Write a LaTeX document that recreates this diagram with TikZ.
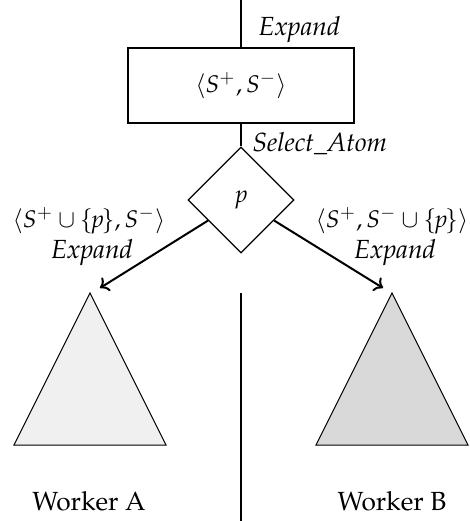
\documentclass[tikz,border=0pt]{standalone}
\usepackage[T1]{fontenc}
\usepackage{mathpazo}
\usetikzlibrary{shapes.geometric,arrows.meta}
\newcommand{\mathfs}{\fontsize{9.6pt}{11pt}\selectfont}
\newcommand{\textfs}{\fontsize{10.5pt}{12pt}\selectfont}
\begin{document}
\begin{tikzpicture}[x=0.4pt,y=-0.4pt,
  thinline/.style={line width=0.5pt},
  arr/.style={line width=0.8pt,-{To[length=3.2pt,width=6.4pt]}},
  lbl/.style={font=\textfs\itshape,inner sep=0pt},
  mlbl/.style={font=\mathfs,inner sep=0pt},
  tri/.style={draw,line width=0.4pt,line join=miter}]
\useasboundingbox (0,0) rectangle (469,521);
\coordinate (top) at (241,0);
\node[draw,thinline,font=\mathfs,minimum width=90.4pt,minimum height=30pt,inner sep=0pt] (box) at (241,85.5) {$\langle S^{+}, S^{-}\rangle$};
\node[draw,thinline,diamond,aspect=1,minimum size=42.4pt,inner sep=0pt,font=\mathfs] (dia) at (241,200) {$p$};
\draw[thinline] (top) -- (box.north);
\draw[thinline] (box.south) -- (dia.north);
\node[lbl,anchor=base west] (ex0) at (258,35) {Expand};
\node[lbl,anchor=base west] (sel) at (252,151) {Select\_Atom};
\coordinate (tipA) at (100,288);
\coordinate (tipB) at (383,288);
\draw[arr] (dia) -- (tipA);
\draw[arr] (dia) -- (tipB);
\node[mlbl,anchor=base] (lA) at (89,227) {$\langle S^{+}\cup\{\mkern-2mu p\mkern-2mu\}, S^{-}\rangle$};
\node[lbl,anchor=base] (eA) at (92,258) {Expand};
\node[mlbl,anchor=base] (lB) at (392,227) {$\langle S^{+}, S^{-}\cup\{\mkern-2mu p\mkern-2mu\}\rangle$};
\node[lbl,anchor=base] (eB) at (395,258) {Expand};
\coordinate (apA) at (90,293);
\coordinate (apB) at (392,293);
\fill[black!6] (apA) -- (166,445) -- (14,445) -- cycle;
\draw[tri] (apA) -- (166,445) -- (14,445) -- cycle;
\fill[black!15] (apB) -- (468,445) -- (316,445) -- cycle;
\draw[tri] (apB) -- (468,445) -- (316,445) -- cycle;
\coordinate (sepT) at (241,293);
\coordinate (sepB) at (241,521);
\draw[thinline] (sepT) -- (sepB);
\node[font=\textfs,anchor=base,inner sep=0pt] (wA) at (89,510) {Worker A};
\node[font=\textfs,anchor=base,inner sep=0pt] (wB) at (392,510) {Worker B};
\end{tikzpicture}
\end{document}
